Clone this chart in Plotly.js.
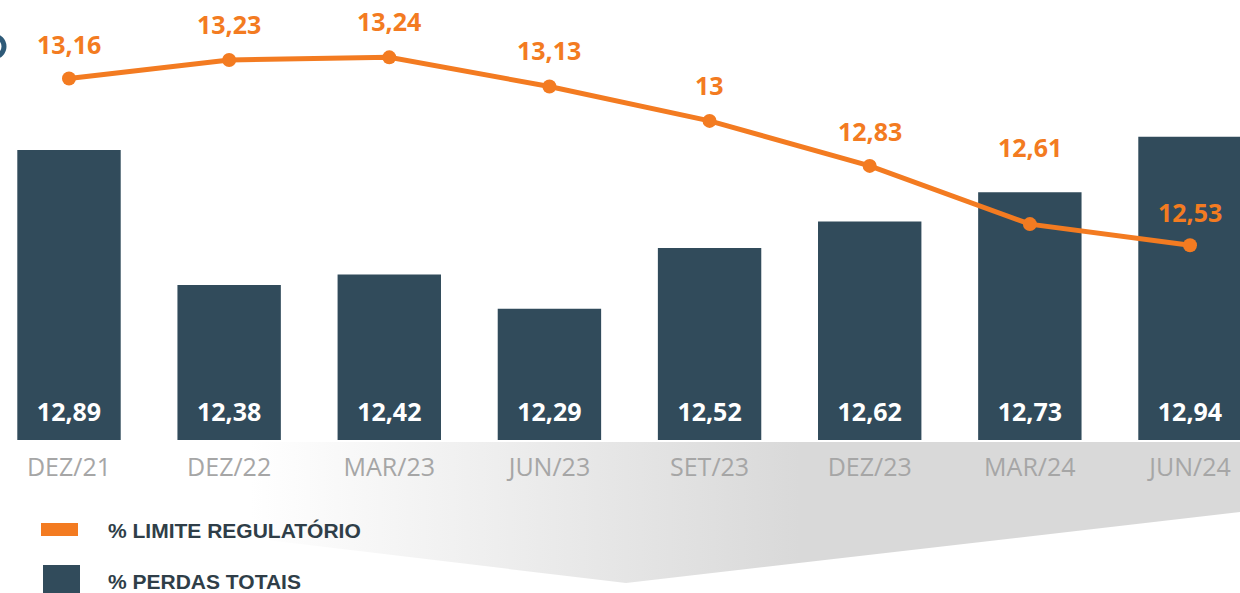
<!DOCTYPE html>
<html>
<head>
<meta charset="utf-8">
<script src="https://cdn.plot.ly/plotly-3.0.1.min.js"></script>
<style>html,body{margin:0;padding:0;background:#fff;}#chart{width:1240px;height:593px;}</style>
</head>
<body>
<div id="chart"></div>
<script>
// ---- data ----
const categories = ["DEZ/21", "DEZ/22", "MAR/23", "JUN/23", "SET/23", "DEZ/23", "MAR/24", "JUN/24"];
const perdasTotais = [12.89, 12.38, 12.42, 12.29, 12.52, 12.62, 12.73, 12.94];
const limiteRegulatorio = [13.16, 13.23, 13.24, 13.13, 13.00, 12.83, 12.61, 12.53];
const legendLabels = ["% LIMITE REGULATÓRIO", "% PERDAS TOTAIS"];

// ---- styles ----
const ORANGE = "#F37B21";
const NAVY = "#314B5B";
const W = 1240, H = 593;
const labelShift = [35, 36, 36, 36, 36, 35, 77, 33]; // px above each point (style)
const fmt = v => (Math.round(v * 100) / 100).toString().replace(".", ",");
const px = x => x / W;
const py = y => 1 - y / H;
const yMin = 11.7944, yMax = 13.4567;
const labelY = 11.889;

const idx = categories.map((c, i) => i);

const traces = [
  {
    type: "bar",
    x: idx,
    y: perdasTotais,
    width: 0.6457,
    marker: { color: NAVY, line: { width: 0 } },
    hoverinfo: "x+y",
    showlegend: false
  },
  {
    type: "scatter",
    mode: "text",
    x: idx,
    y: perdasTotais.map(() => labelY),
    text: perdasTotais.map(fmt),
    textposition: "middle center",
    textfont: { family: "Open Sans", size: 25, color: "#ffffff", weight: 700 },
    hoverinfo: "skip",
    showlegend: false
  },
  {
    type: "scatter",
    mode: "lines+markers",
    x: idx,
    y: limiteRegulatorio,
    line: { color: ORANGE, width: 5 },
    marker: { color: ORANGE, size: 14 },
    cliponaxis: false,
    showlegend: false
  }
];

const gradSvg = `<svg xmlns="http://www.w3.org/2000/svg" width="${W}" height="${H}" viewBox="0 0 ${W} ${H}">
<defs><linearGradient id="g" x1="250" y1="0" x2="800" y2="0" gradientUnits="userSpaceOnUse">
<stop offset="0" stop-color="#ffffff"/><stop offset="1" stop-color="#d9d9d9"/></linearGradient></defs>
<polygon points="250,442 1240,442 1240,512 626,583 250,538" fill="url(#g)"/></svg>`;

const pointLabels = limiteRegulatorio.map((v, i) => ({
  xref: "x", yref: "y", x: i, y: v,
  xanchor: "center", yanchor: "middle",
  yshift: labelShift[i],
  showarrow: false,
  text: fmt(v),
  font: { family: "Open Sans", size: 25, color: ORANGE, weight: 700 }
}));

const layout = {
  width: W, height: H,
  margin: { l: 0, r: 0, t: 0, b: 0, pad: 0 },
  paper_bgcolor: "rgba(0,0,0,0)",
  plot_bgcolor: "rgba(0,0,0,0)",
  showlegend: false,
  xaxis: {
    range: [-0.4309, 7.3123],
    tickmode: "array",
    tickvals: idx,
    ticktext: categories,
    tickfont: { family: "Open Sans", size: 25, color: "#A6A6A6" },
    ticks: "",
    showgrid: false, zeroline: false, showline: false,
    automargin: false,
    ticklabelstandoff: 10,
    fixedrange: true
  },
  yaxis: {
    domain: [153 / H, 1],
    range: [yMin, yMax],
    showticklabels: false,
    showgrid: false, zeroline: false, showline: false,
    ticks: "",
    fixedrange: true
  },
  images: [{
    source: "data:image/svg+xml;charset=utf-8," + encodeURIComponent(gradSvg),
    xref: "paper", yref: "paper",
    x: 0, y: 1, sizex: 1, sizey: 1,
    xanchor: "left", yanchor: "top",
    sizing: "stretch",
    layer: "below"
  }],
  shapes: [
    { type: "rect", xref: "paper", yref: "paper", x0: px(41), x1: px(78), y0: py(536), y1: py(523), fillcolor: ORANGE, line: { width: 0 } },
    { type: "rect", xref: "paper", yref: "paper", x0: px(43), x1: px(80), y0: py(600), y1: py(565), fillcolor: NAVY, line: { width: 0 } },
    { type: "circle", xref: "paper", yref: "paper", x0: px(-17), x1: px(4), y0: py(57), y1: py(36), fillcolor: "rgba(0,0,0,0)", line: { color: "#2E5A78", width: 5 } }
  ],
  annotations: pointLabels.concat([
    { xref: "paper", yref: "paper", x: px(106), y: py(530), xanchor: "left", yanchor: "middle", showarrow: false,
      text: legendLabels[0], font: { family: "Liberation Sans", size: 21, color: "#2F3E48", weight: 700 } },
    { xref: "paper", yref: "paper", x: px(106), y: py(581), xanchor: "left", yanchor: "middle", showarrow: false,
      text: legendLabels[1], font: { family: "Liberation Sans", size: 21, color: "#2F3E48", weight: 700 } }
  ])
};

Plotly.newPlot("chart", traces, layout, { displayModeBar: false, staticPlot: true });
</script>
</body>
</html>
